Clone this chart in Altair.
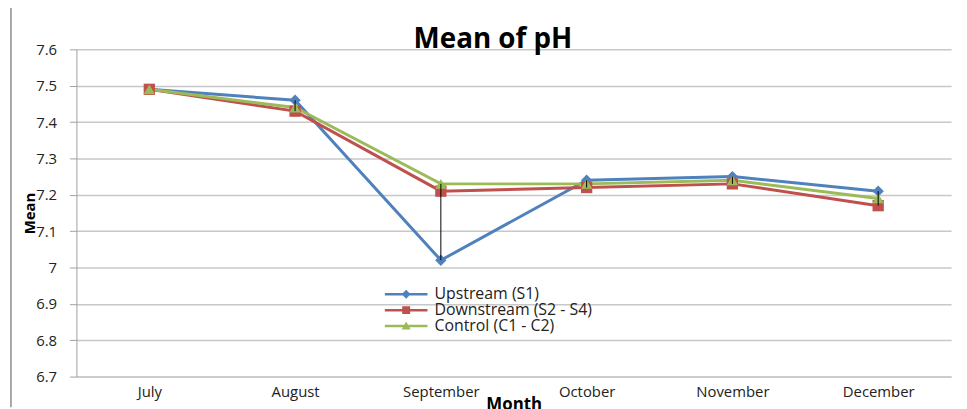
import altair as alt
import pandas as pd

months = ["July", "August", "September", "October", "November", "December"]
series_names = ["Upstream (S1)", "Downstream (S2 - S4)", "Control (C1 - C2)"]
upstream = [7.49, 7.46, 7.02, 7.24, 7.25, 7.21]
downstream = [7.49, 7.43, 7.21, 7.22, 7.23, 7.17]
control = [7.49, 7.44, 7.23, 7.23, 7.24, 7.19]
y_ticks = [6.7, 6.8, 6.9, 7.0, 7.1, 7.2, 7.3, 7.4, 7.5, 7.6]
chart_title = "Mean of pH"

colors = ["#4F81BD", "#C0504D", "#9BBB59"]
marker_shapes = ["diamond", "square", "triangle-up"]
legend_paths = [
    "M-4.3,-0.25H4.3V0.25H-4.3Z M0,-0.9L0.9,0L0,0.9L-0.9,0Z",
    "M-4.3,-0.25H4.3V0.25H-4.3Z M-0.8,-0.8H0.8V0.8H-0.8Z",
    "M-4.3,-0.25H4.3V0.25H-4.3Z M0,-0.9L0.9,0.7H-0.9Z",
]

rows = []
for name, vals in zip(series_names, [upstream, downstream, control]):
    for m, v in zip(months, vals):
        rows.append({"month": m, "value": v, "series": name, "order": series_names.index(name)})
df = pd.DataFrame(rows)

FONT = "Open Sans"
GRID = "#C8C8C8"
y_scale = alt.Scale(domain=[6.7, 7.6], nice=False, zero=False)
x_scale = alt.Scale(type="point", padding=0.5)

x_axis = alt.Axis(title="Month", labelAngle=0, ticks=False, grid=False,
                  domainColor=GRID, domainWidth=1.5, labelFont=FONT, labelFontSize=15,
                  labelColor="#222", labelPadding=8,
                  titleFont=FONT, titleFontSize=17, titleFontWeight="bold",
                  titleY=33, titleBaseline="alphabetic", titleColor="#000")
y_axis = alt.Axis(title="Mean", values=y_ticks, tickCount=10, labelExpr="format(datum.value, '~g')",
                  labelOverlap=False, labelBound=False,
                  grid=True, gridColor=GRID, gridWidth=1.5,
                  domainColor="#A0A0A0", tickColor="#A0A0A0", tickSize=7,
                  labelFont=FONT, labelFontSize=15, labelColor="#222", labelPadding=13,
                  titleFont=FONT, titleFontSize=15, titleFontWeight="bold",
                  titleAngle=-90, titleX=-47, titleY=165, titleAlign="center",
                  titleBaseline="middle", titleColor="#000")

x_enc = alt.X("month:N", sort=months, scale=x_scale, axis=x_axis)
y_enc = alt.Y("value:Q", scale=y_scale, axis=y_axis)

color_plain = alt.Color("series:N", scale=alt.Scale(domain=series_names, range=colors), legend=None)

base = alt.Chart(df)

lines = base.mark_line(strokeWidth=3).encode(
    x=x_enc, y=y_enc, color=color_plain, order="order:Q"
)

points = base.mark_point(filled=True, opacity=1, size=130).encode(
    x=x_enc, y=y_enc, color=color_plain,
    shape=alt.Shape("series:N", scale=alt.Scale(domain=series_names, range=marker_shapes), legend=None),
    order="order:Q",
)

hilo = base.mark_rule(color="#000", strokeWidth=1).encode(
    x=x_enc, y=alt.Y("min(value):Q", scale=y_scale, axis=y_axis),
    y2="max(value):Q",
)

leg = alt.Legend(title=None, orient="none", legendX=324.5, legendY=239,
                 labelFont=FONT, labelFontSize=16, labelColor="#222", labelOffset=20.5,
                 symbolSize=100, symbolStrokeWidth=0, rowPadding=-1, symbolOpacity=1)

legend_layer = base.mark_point(filled=True, size=100).encode(
    x=x_enc, y=y_enc,
    color=alt.Color("series:N", scale=alt.Scale(domain=series_names, range=colors), legend=leg),
    shape=alt.Shape("series:N", scale=alt.Scale(domain=series_names, range=legend_paths), legend=leg),
).transform_filter("false")

title_layer = alt.Chart(pd.DataFrame({"t": [chart_title]})).mark_text(
    font=FONT, fontSize=28, fontWeight="bold", color="#000", align="center", baseline="alphabetic"
).encode(x=alt.value(420), y=alt.value(-1), text="t:N")

border = alt.Chart(pd.DataFrame({"a": [0]})).mark_rule(color="#8C8C8C", strokeWidth=1.5).encode(
    x=alt.value(-66), y=alt.value(-48), y2=alt.value(361)
)

chart = alt.layer(lines, points, hilo, legend_layer, title_layer, border).resolve_scale(
    color="independent", shape="independent"
).properties(
    width=882, height=330,
    autosize=alt.AutoSizeParams(type="none"),
    padding={"left": 69, "top": 40, "right": 8, "bottom": 31},
).configure_view(stroke=None)

chart.save("out.html", embed_options={"renderer": "svg", "actions": False})
